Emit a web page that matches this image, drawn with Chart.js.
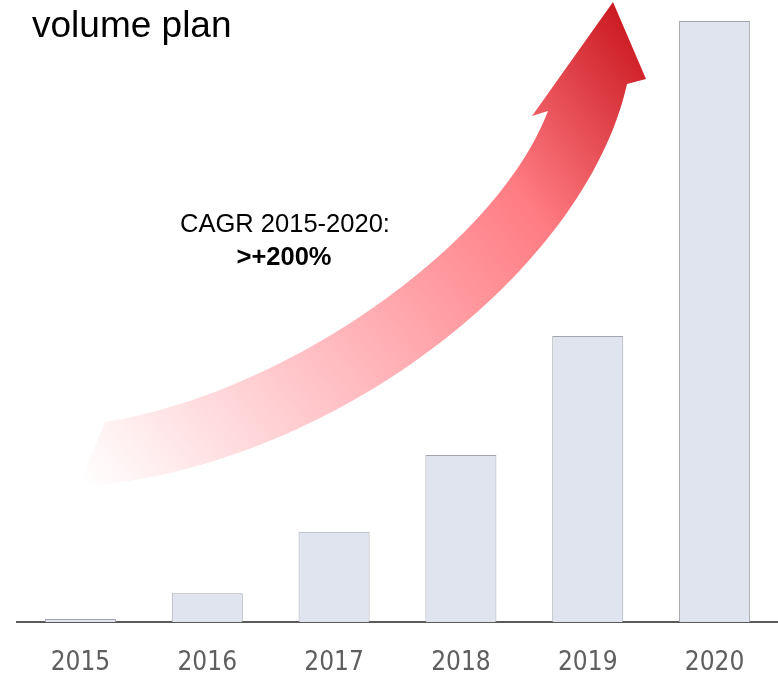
<!DOCTYPE html>
<html>
<head>
<meta charset="utf-8">
<script src="https://cdn.jsdelivr.net/npm/chart.js@4/dist/chart.umd.min.js"></script>
<style>
  html, body { margin: 0; padding: 0; background: #ffffff; }
  #wrap { width: 778px; height: 675px; position: relative; }
</style>
</head>
<body>
<div id="wrap"><canvas id="myChart"></canvas></div>
<script>
// Chart Data
var years = ['2015', '2016', '2017', '2018', '2019', '2020'];
var volumes = [0.5, 4.8, 15.0, 27.8, 47.6, 100];
var titleText = 'volume plan';
var cagrLabel = 'CAGR 2015-2020:';
var cagrValue = '>+200%';

// growth arrow + texts, drawn on the canvas
var arrowPlugin = {
    id: 'arrowPlugin',
    beforeDatasetsDraw: function(chart) {
        var c = chart.ctx;
        c.save();
        var grad = c.createLinearGradient(80, 480, 650, 30);
        grad.addColorStop(0, '#ffffff');
        grad.addColorStop(0.4, '#ffb8bd');
        grad.addColorStop(0.72, '#ff7c83');
        grad.addColorStop(1, '#c8141c');
        c.fillStyle = grad;
        c.beginPath();
        c.moveTo(78, 487);
        c.bezierCurveTo(330, 470, 585, 272, 627, 84);
        c.lineTo(646, 79);
        c.lineTo(613, 2);
        c.lineTo(532, 116);
        c.lineTo(548, 111);
        c.bezierCurveTo(495, 250, 280, 395, 105, 422);
        c.closePath();
        c.fill();
        c.restore();
    },
    afterDraw: function(chart) {
        var c = chart.ctx;
        c.save();
        c.fillStyle = '#000000';
        c.textBaseline = 'alphabetic';
        c.textAlign = 'left';
        c.font = '37px "Liberation Sans", Arial, sans-serif';
        c.fillText(titleText, 32, 37);
        c.textAlign = 'center';
        c.font = '25.5px "Liberation Sans", Arial, sans-serif';
        c.fillText(cagrLabel, 285, 232);
        c.font = 'bold 25.5px "Liberation Sans", Arial, sans-serif';
        c.fillText(cagrValue, 284, 265);
        c.restore();
    }
};

var ctx = document.getElementById('myChart').getContext('2d');
var myChart = new Chart(ctx, {
    type: 'bar',
    data: {
        labels: years,
        datasets: [{
            data: volumes,
            backgroundColor: '#dfe4ee',
            borderColor: '#a3a6ad',
            borderWidth: { top: 1, left: 1, right: 1, bottom: 0 },
            barPercentage: 0.56,
            categoryPercentage: 1
        }]
    },
    options: {
        responsive: true,
        maintainAspectRatio: false,
        animation: false,
        layout: { padding: { left: 17, right: 0, top: 21, bottom: 0 } },
        plugins: {
            legend: { display: false },
            tooltip: { enabled: false }
        },
        scales: {
            x: {
                afterFit: function(scale) { scale.height = 53; },
                grid: { display: false, drawTicks: false },
                border: { display: true, color: '#5a5a5a', width: 2 },
                ticks: {
                    color: '#5f5f5f',
                    padding: 28,
                    font: { family: '"Liberation Sans Narrow", "DejaVu Sans Condensed", sans-serif', size: 26, lineHeight: 1 }
                }
            },
            y: {
                display: false,
                min: 0,
                max: 100
            }
        }
    },
    plugins: [arrowPlugin]
});
</script>
</body>
</html>
